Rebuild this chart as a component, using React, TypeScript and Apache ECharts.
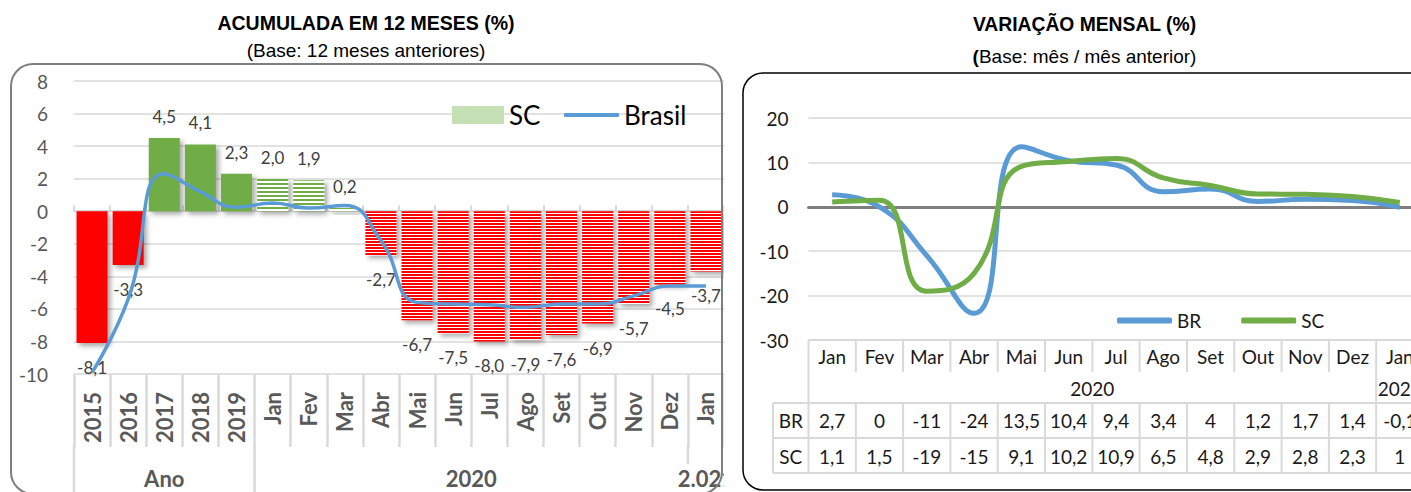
import React, { useEffect, useRef } from 'react';
import * as echarts from 'echarts';

// ---------- Data: left chart (accumulated 12 months) ----------
const ACC_CATEGORIES = ['2015', '2016', '2017', '2018', '2019', 'Jan', 'Fev', 'Mar', 'Abr', 'Mai', 'Jun', 'Jul', 'Ago', 'Set', 'Out', 'Nov', 'Dez', 'Jan'];
const ACC_GROUPS = ['Ano', '2020', '2.021'];
const ACC_GROUP_SIZES = [5, 12, 1];
const ACC_SC = [-8.1, -3.3, 4.5, 4.1, 2.3, 2.0, 1.9, 0.2, -2.7, -6.7, -7.5, -8.0, -7.9, -7.6, -6.9, -5.7, -4.5, -3.7];
const ACC_BRASIL = [-9.9, -5.4, 2.3, 1.2, 0.25, 0.5, 0.2, 0.35, -1.8, -5.6, -5.7, -5.75, -5.9, -5.7, -5.7, -5.2, -4.6, -4.6];

// ---------- Data: right chart (monthly variation) ----------
const MONTHS = ['Jan', 'Fev', 'Mar', 'Abr', 'Mai', 'Jun', 'Jul', 'Ago', 'Set', 'Out', 'Nov', 'Dez', 'Jan'];
const MONTH_GROUPS = ['2020', '2021'];
const MONTH_GROUP_SIZES = [12, 1];
const MONTH_BR = [2.7, 0, -11, -24, 13.5, 10.4, 9.4, 3.4, 4, 1.2, 1.7, 1.4, -0.1];
const MONTH_SC = [1.1, 1.5, -19, -15, 9.1, 10.2, 10.9, 6.5, 4.8, 2.9, 2.8, 2.3, 1];

const RED = '#FF0000';
const GREEN = '#70AD47';
const BLUE = '#5B9BD5';
const GRID_GRAY = '#D9D9D9';
const FONT = 'Lato';

const LEFT_GRID = { left: 74, top: 81, width: 651, height: 293 };

const fmt1 = (v: number) => v.toFixed(1).replace('.', ',');
const fmtTable = (v: number) => String(v).replace('.', ',');

// horizontal stripe pattern built as a hard-stop gradient in global coordinates
function stripeFill(base: string, stripe: string, stripeH: number, period: number, top: number, height: number) {
  const stops: any[] = [];
  for (let y = 0; y < height; y += period) {
    const a = y / height;
    const b = Math.min((y + stripeH) / height, 1);
    const c = Math.min((y + period) / height, 1);
    stops.push({ offset: a, color: stripe }, { offset: b, color: stripe }, { offset: b, color: base }, { offset: c, color: base });
  }
  return new echarts.graphic.LinearGradient(0, top, 0, top + height, stops, true);
}

function leftOption(): any {
  const annualCount = ACC_GROUP_SIZES[0];
  const redStripes = stripeFill(RED, '#FFFFFF', 1, 3, LEFT_GRID.top, LEFT_GRID.height);
  const greenStripes = stripeFill(GREEN, '#FFFFFF', 2, 4, LEFT_GRID.top, LEFT_GRID.height);
  const barData = ACC_SC.map((v, i) => {
    const neg = v < 0;
    const annual = i < annualCount;
    const color = annual ? (neg ? RED : GREEN) : (neg ? redStripes : greenStripes);
    return {
      value: v,
      itemStyle: {
        color,
        shadowBlur: 5,
        shadowOffsetX: 3,
        shadowOffsetY: 3,
        shadowColor: 'rgba(0,0,0,0.35)',
      },
      label: { distance: neg ? 16 : 13 },
    };
  });
  const legendText = { fontSize: 26, color: '#000', fontFamily: FONT };
  return {
    animation: false,
    textStyle: { fontFamily: FONT },
    grid: LEFT_GRID,
    legend: [
      {
        left: 447,
        top: 97,
        itemWidth: 52,
        itemHeight: 18,
        textStyle: legendText,
        data: [{ name: 'SC', icon: 'rect', itemStyle: { color: '#C5E0B4', shadowBlur: 0, shadowOffsetX: 0, shadowOffsetY: 0 } }],
      },
      {
        left: 559,
        top: 97,
        itemWidth: 55,
        itemHeight: 4,
        textStyle: legendText,
        data: [{ name: 'Brasil', icon: 'roundRect' }],
      },
    ],
    xAxis: [
      {
        type: 'category',
        data: ACC_CATEGORIES,
        axisLine: { onZero: true, lineStyle: { color: GRID_GRAY, width: 2 } },
        axisTick: { show: true, inside: true, length: 6, interval: 0, lineStyle: { color: GRID_GRAY, width: 2 } },
        axisLabel: { show: false },
        splitLine: { show: false },
      },
      {
        type: 'category',
        data: ACC_CATEGORIES,
        position: 'bottom',
        axisLine: { show: false, onZero: false },
        axisTick: { show: true, length: 73, interval: 0, lineStyle: { color: GRID_GRAY, width: 2.5 } },
        axisLabel: { interval: 0, rotate: 90, margin: 18, fontSize: 22, fontWeight: 'bold', color: '#595959', fontFamily: FONT },
        splitLine: { show: false },
      },
    ],
    yAxis: {
      type: 'value',
      min: -10,
      max: 8,
      interval: 2,
      axisLabel: { fontSize: 19, color: '#595959', margin: 26, fontFamily: FONT },
      splitLine: { lineStyle: { color: GRID_GRAY, width: 1.5 } },
      axisLine: { show: false },
      axisTick: { show: false },
    },
    series: [
      {
        name: 'SC',
        type: 'bar',
        xAxisIndex: 0,
        data: barData,
        barCategoryGap: '14%',
        itemStyle: { color: '#C5E0B4' },
        label: {
          show: true,
          position: 'outside',
          fontSize: 17,
          color: '#404040',
          fontFamily: FONT,
          formatter: (p: any) => fmt1(p.value),
        },
      },
      {
        name: 'Brasil',
        type: 'line',
        xAxisIndex: 0,
        data: ACC_BRASIL,
        smooth: 0.5,
        symbol: 'none',
        lineStyle: { color: BLUE, width: 3.5 },
        itemStyle: { color: BLUE },
        z: 5,
      },
    ],
  };
}

function leftGraphics(chart: any): any[] {
  const cx = (i: number) => chart.convertToPixel({ xAxisIndex: 0 }, i) as number;
  const yAt = (v: number) => chart.convertToPixel({ yAxisIndex: 0 }, v) as number;
  const w = cx(1) - cx(0);
  const b = (k: number) => cx(0) - w / 2 + k * w;
  const labelBottom = yAt(-10) + 73;
  const els: any[] = [];
  els.push({
    type: 'text', x: 366, y: 23, z: 50,
    style: { text: 'ACUMULADA EM 12 MESES (%)', fontFamily: '"Liberation Sans", Arial', fontWeight: 'bold', fontSize: 19.5, fill: '#000', textAlign: 'center', textVerticalAlign: 'middle' },
  });
  els.push({
    type: 'text', x: 366, y: 50, z: 50,
    style: { text: '(Base: 12 meses anteriores)', fontFamily: '"Liberation Sans", Arial', fontSize: 19, fill: '#000', textAlign: 'center', textVerticalAlign: 'middle' },
  });
  let start = 0;
  ACC_GROUPS.forEach((g, gi) => {
    const n = ACC_GROUP_SIZES[gi];
    const x0 = b(start);
    const x1 = b(start + n);
    const last = gi === ACC_GROUPS.length - 1;
    els.push({
      type: 'line', z: 10,
      shape: { x1: x0, y1: labelBottom - 1, x2: x0, y2: last ? labelBottom + 17 : 500 },
      style: { stroke: GRID_GRAY, lineWidth: 2.5 },
    });
    els.push({
      type: 'text', x: (x0 + x1) / 2, y: 478, z: 10,
      style: { text: g, fontFamily: FONT, fontWeight: 'bold', fontSize: 22, fill: '#595959', textAlign: 'center', textVerticalAlign: 'middle' },
    });
    start += n;
  });
  els.push({
    type: 'rect', z: 100,
    shape: { x: 11, y: 64, width: 711, height: 430, r: 22 },
    style: { fill: 'none', stroke: '#7F7F7F', lineWidth: 2 },
  });
  return els;
}

function rightOption(): any {
  return {
    animation: false,
    textStyle: { fontFamily: FONT },
    grid: { left: 78.5, top: 118, width: 615, height: 222 },
    legend: {
      left: 382,
      top: 306,
      itemWidth: 55,
      itemHeight: 6,
      itemGap: 40,
      icon: 'roundRect',
      textStyle: { fontSize: 19, color: '#1a1a1a', fontFamily: FONT },
      data: ['BR', 'SC'],
    },
    xAxis: {
      type: 'category',
      data: MONTHS,
      axisLine: { onZero: true, lineStyle: { color: '#7F7F7F', width: 3 } },
      axisTick: { show: false },
      axisLabel: { show: false },
      splitLine: { show: false },
    },
    yAxis: {
      type: 'value',
      min: -30,
      max: 20,
      interval: 10,
      axisLabel: { fontSize: 19, color: '#1a1a1a', margin: 20, fontFamily: FONT },
      splitLine: { lineStyle: { color: GRID_GRAY, width: 1.5 } },
      axisLine: { show: false },
      axisTick: { show: false },
    },
    series: [
      { name: 'BR', type: 'line', data: MONTH_BR, smooth: 0.5, symbol: 'none', lineStyle: { color: BLUE, width: 5 }, itemStyle: { color: BLUE } },
      { name: 'SC', type: 'line', data: MONTH_SC, smooth: 0.5, symbol: 'none', lineStyle: { color: GREEN, width: 5 }, itemStyle: { color: GREEN } },
    ],
  };
}

function rightGraphics(chart: any): any[] {
  const cx = (i: number) => chart.convertToPixel({ xAxisIndex: 0 }, i) as number;
  const yAt = (v: number) => chart.convertToPixel({ yAxisIndex: 0 }, v) as number;
  const w = cx(1) - cx(0);
  const b = (k: number) => cx(0) - w / 2 + k * w;
  const n = MONTHS.length;
  const top = yAt(-30);
  const rowHeadL = b(0) - 35.5;
  const yHeadEnd = top + 32;
  const yYearEnd = top + 63;
  const yBrEnd = top + 98;
  const yScEnd = top + 133;
  const line = (x1: number, y1: number, x2: number, y2: number) => ({
    type: 'line', z: 10, shape: { x1, y1, x2, y2 }, style: { stroke: GRID_GRAY, lineWidth: 2 },
  });
  const txt = (text: string, x: number, y: number) => ({
    type: 'text', x, y, z: 12,
    style: { text, fontFamily: FONT, fontSize: 19, fill: '#1a1a1a', textAlign: 'center', textVerticalAlign: 'middle' },
  });
  const els: any[] = [];
  els.push({
    type: 'text', x: 354.5, y: 24, z: 50,
    style: { text: 'VARIAÇÃO MENSAL (%)', fontFamily: '"Liberation Sans", Arial', fontWeight: 'bold', fontSize: 19.3, fill: '#000', textAlign: 'center', textVerticalAlign: 'middle' },
  });
  els.push({
    type: 'text', x: 354.5, y: 56, z: 50,
    style: {
      text: '{b|(}Base: mês / mês anterior)',
      fontFamily: '"Liberation Sans", Arial', fontSize: 19, fill: '#000', textAlign: 'center', textVerticalAlign: 'middle',
      rich: { b: { fontFamily: '"Liberation Sans", Arial', fontSize: 19, fontWeight: 'bold', fill: '#000' } },
    },
  });
  const groupStarts: number[] = [];
  let s = 0;
  MONTH_GROUP_SIZES.forEach((g) => { groupStarts.push(s); s += g; });
  groupStarts.push(s);
  for (let k = 0; k <= n; k++) {
    const tall = groupStarts.indexOf(k) >= 0;
    els.push(line(b(k), top, b(k), tall ? yYearEnd : yHeadEnd));
  }
  els.push(line(b(0), top, b(n), top));
  els.push(line(rowHeadL, yYearEnd, b(n), yYearEnd));
  els.push(line(rowHeadL, yBrEnd, b(n), yBrEnd));
  els.push(line(rowHeadL, yScEnd, b(n), yScEnd));
  els.push(line(rowHeadL, yYearEnd, rowHeadL, yScEnd));
  for (let k = 0; k <= n; k++) els.push(line(b(k), yYearEnd, b(k), yScEnd));
  MONTHS.forEach((m, i) => els.push(txt(m, cx(i), top + 16)));
  MONTH_GROUPS.forEach((g, gi) => {
    const a = groupStarts[gi];
    const e = groupStarts[gi + 1] - 1;
    els.push(txt(g, (cx(a) + cx(e)) / 2, top + 48));
  });
  els.push(txt('BR', (rowHeadL + b(0)) / 2, top + 80));
  els.push(txt('SC', (rowHeadL + b(0)) / 2, top + 116));
  MONTH_BR.forEach((v, i) => els.push(txt(fmtTable(v), cx(i), top + 80)));
  MONTH_SC.forEach((v, i) => els.push(txt(fmtTable(v), cx(i), top + 116)));
  els.push({
    type: 'rect', z: 100,
    shape: { x: 13, y: 73, width: 690, height: 417, r: 20 },
    style: { fill: 'none', stroke: '#000', lineWidth: 1.5 },
  });
  return els;
}

export default function App() {
  const leftRef = useRef<HTMLDivElement>(null);
  const rightRef = useRef<HTMLDivElement>(null);
  useEffect(() => {
    const left = echarts.init(leftRef.current!, null, { renderer: 'svg' });
    left.setOption(leftOption());
    left.setOption({ graphic: leftGraphics(left) });
    const right = echarts.init(rightRef.current!, null, { renderer: 'svg' });
    right.setOption(rightOption());
    right.setOption({ graphic: rightGraphics(right) });
    return () => {
      left.dispose();
      right.dispose();
    };
  }, []);
  return (
    <div style={{ position: 'fixed', left: 0, top: 0, width: 1411, height: 492, overflow: 'hidden', background: '#fff' }}>
      <div ref={leftRef} style={{ position: 'absolute', left: 0, top: 0, width: 724, height: 492 }} />
      <div ref={rightRef} style={{ position: 'absolute', left: 730, top: 0, width: 700, height: 492 }} />
    </div>
  );
}
